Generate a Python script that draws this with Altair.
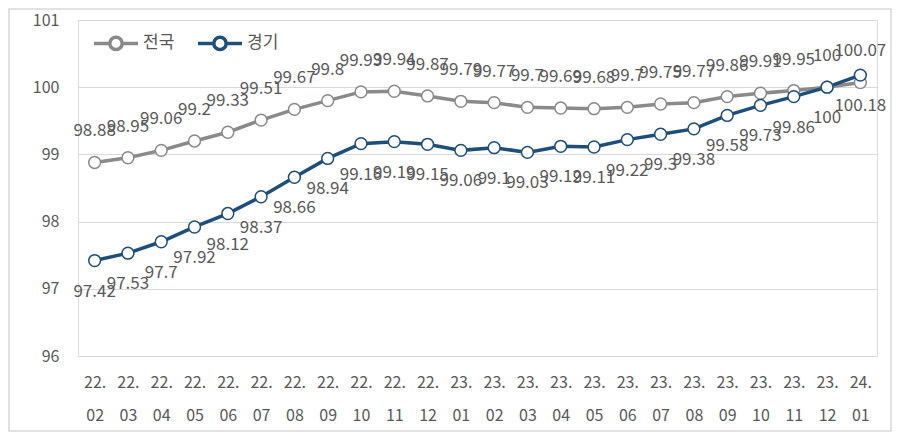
import altair as alt
import pandas as pd

months = ["22.02", "22.03", "22.04", "22.05", "22.06", "22.07", "22.08", "22.09",
          "22.10", "22.11", "22.12", "23.01", "23.02", "23.03", "23.04", "23.05",
          "23.06", "23.07", "23.08", "23.09", "23.10", "23.11", "23.12", "24.01"]
series_names = ["전국", "경기"]
national = [98.88, 98.95, 99.06, 99.2, 99.33, 99.51, 99.67, 99.8, 99.93, 99.94, 99.87, 99.79,
            99.77, 99.7, 99.69, 99.68, 99.7, 99.75, 99.77, 99.86, 99.91, 99.95, 100, 100.07]
gyeonggi = [97.42, 97.53, 97.7, 97.92, 98.12, 98.37, 98.66, 98.94, 99.16, 99.19, 99.15, 99.06,
            99.1, 99.03, 99.12, 99.11, 99.22, 99.3, 99.38, 99.58, 99.73, 99.86, 100, 100.18]
y_ticks = [96, 97, 98, 99, 100, 101]
colors = ["#8a8a8a", "#1f4e79"]

rows = []
for name, vals in zip(series_names, [national, gyeonggi]):
    for m, v in zip(months, vals):
        rows.append({"month": m, "series": name, "value": v, "label": f"{v:g}"})
df = pd.DataFrame(rows)

FONT = "Noto Sans CJK KR"
TXT = "#595959"

x = alt.X("month:O", sort=months, scale=alt.Scale(type="point", padding=0.5),
          axis=alt.Axis(title=None, domain=False, ticks=False, labelAngle=0,
                        labelExpr="[slice(datum.label,0,3), slice(datum.label,3)]",
                        labelFont=FONT, labelFontSize=16, labelColor=TXT,
                        labelLineHeight=33, labelPadding=26, labelBaseline="middle"))
y = alt.Y("value:Q", scale=alt.Scale(domain=[96, 101], nice=False, zero=False),
          axis=alt.Axis(title=None, domain=False, ticks=False, values=y_ticks,
                        grid=True, gridColor="#d9d9d9", gridWidth=1,
                        labelFont=FONT, labelFontSize=16, labelColor=TXT, labelPadding=19))
stroke = alt.Stroke("series:N", sort=series_names,
                    scale=alt.Scale(domain=series_names, range=colors),
                    legend=alt.Legend(title=None, orient="none", legendX=14, legendY=-1,
                                      direction="horizontal",
                                      symbolType="M-1,0H-0.28M0.28,0H1M0.28,0A0.28,0.28,0,1,1,-0.28,0A0.28,0.28,0,1,1,0.28,0Z",
                                      symbolSize=1936, symbolStrokeWidth=3.5,
                                      symbolFillColor="white",
                                      labelFont=FONT, labelFontSize=17, labelColor=TXT,
                                      labelOffset=3, columnPadding=16))

base = alt.Chart(df)

lines = base.mark_line(strokeWidth=3.5).encode(x=x, y=y, stroke=stroke, detail="series:N")
pts = base.mark_point(shape="circle", size=140, strokeWidth=1.5, fill="white",
                      fillOpacity=1, opacity=1).encode(x=x, y=y, stroke=stroke)

lab_nat = base.transform_filter("datum.series == '전국'").mark_text(
    font=FONT, fontSize=17, color=TXT, dy=-31, baseline="middle").encode(x=x, y=y, text="label:N")
lab_gg = base.transform_filter("datum.series == '경기'").mark_text(
    font=FONT, fontSize=17, color=TXT, dy=31, baseline="middle").encode(x=x, y=y, text="label:N")

border = alt.Chart(pd.DataFrame({"a": [0]})).mark_rect(
    fill=None, stroke="#d9d9d9", strokeWidth=1.5, clip=False).encode(
    x=alt.value(-69), x2=alt.value(813), y=alt.value(-11), y2=alt.value(411))

chart = alt.layer(border, lines, pts, lab_nat, lab_gg).properties(
    width=799, height=336,
    autosize=alt.AutoSizeParams(type="none"),
    padding={"left": 70, "top": 12, "right": 15, "bottom": 77},
).configure_view(stroke=None).configure(background="white")

chart.save("out.html", embed_options={"renderer": "svg", "actions": False})
